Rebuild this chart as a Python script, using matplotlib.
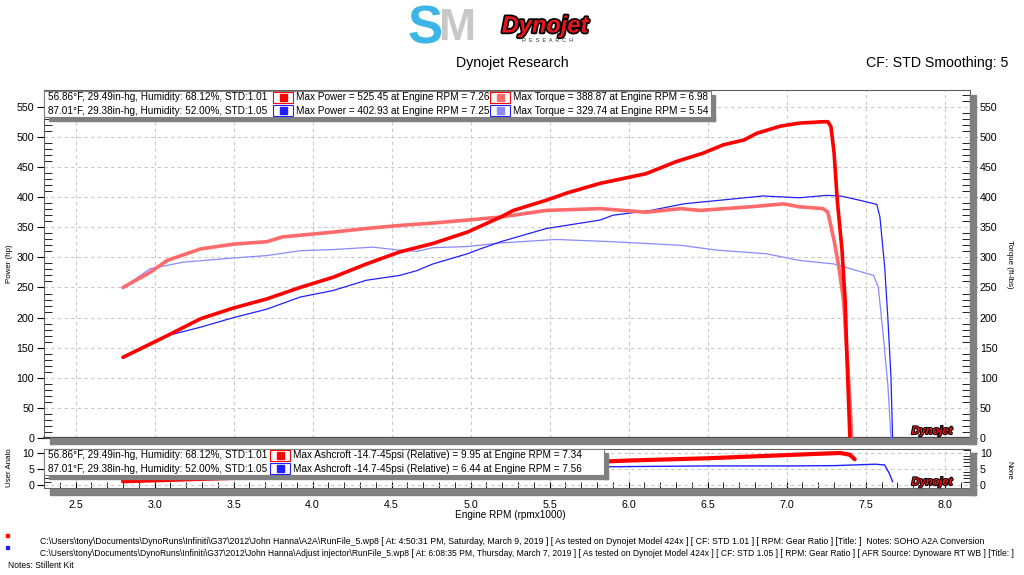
import numpy as np
import matplotlib
matplotlib.use("Agg")
import matplotlib.pyplot as plt
from matplotlib.patches import Rectangle
from matplotlib.ticker import MultipleLocator
import matplotlib.patheffects as pe
from matplotlib import font_manager

# ---- data (rpm x1000) ----
red_power_rpm = [2.80, 3.08, 3.29, 3.50, 3.71, 3.92, 4.13, 4.34, 4.55, 4.76, 4.98, 5.19, 5.27, 5.48,
                 5.61, 5.82, 6.11, 6.30, 6.47, 6.60, 6.73, 6.81, 6.96, 7.08, 7.21, 7.26, 7.28, 7.30,
                 7.32, 7.35, 7.37, 7.38, 7.39, 7.40]
red_power_hp = [134, 170, 198, 216, 231, 250, 267, 289, 309, 323, 342, 367, 378, 395,
                407, 423, 439, 459, 473, 487, 495, 506, 518, 523, 525, 525.45, 517, 473,
                395, 312, 228, 145, 73, 0]

red_torque_rpm = [2.80, 2.97, 3.08, 3.29, 3.50, 3.71, 3.81, 4.13, 4.34, 4.55, 4.76, 4.98, 5.19, 5.48,
                  5.82, 6.11, 6.33, 6.45, 6.77, 6.98, 7.08, 7.23, 7.26, 7.30, 7.33, 7.36, 7.38,
                  7.40, 7.41]
red_torque = [250, 275, 295, 314, 322, 326, 334, 342, 348, 353, 357, 362, 367, 378,
              381, 375, 381, 378, 384, 388.87, 384, 381, 375, 328, 284, 228, 145,
              62, 0]

blue_power_rpm = [2.80, 3.08, 3.29, 3.50, 3.71, 3.92, 4.13, 4.34, 4.55, 4.66, 4.76, 4.98, 5.06, 5.19,
                  5.48, 5.82, 5.90, 6.14, 6.35, 6.62, 6.85, 7.08, 7.25, 7.34, 7.46, 7.57, 7.59,
                  7.62, 7.64, 7.66, 7.67]
blue_power_hp = [134, 170, 184, 200, 214, 234, 245, 262, 270, 278, 289, 306, 314, 326,
                 348, 362, 370, 378, 389, 396, 402, 399, 402.93, 402, 395, 388, 367,
                 284, 200, 100, 0]

blue_torque_rpm = [2.80, 2.97, 3.18, 3.50, 3.71, 3.92, 4.13, 4.38, 4.55, 4.66, 4.76, 4.98, 5.19, 5.54,
                   5.90, 6.33, 6.56, 6.87, 7.08, 7.30, 7.55, 7.58, 7.61, 7.64, 7.66]
blue_torque = [250, 281, 292, 299, 303, 311, 313, 317, 312, 310, 316, 318, 324, 329.74,
               326, 320, 312, 306, 295, 289, 270, 250, 173, 89, 0]

red_ash_rpm = [2.80, 3.20, 3.60, 4.00, 4.50, 5.00, 5.50, 6.00, 6.50, 7.00, 7.20, 7.34, 7.40, 7.43]
red_ash = [1.1, 1.7, 2.3, 2.9, 3.6, 4.6, 6.6, 7.6, 8.3, 9.3, 9.7, 9.95, 9.4, 8.0]
blue_ash_rpm = [2.80, 3.50, 4.00, 4.50, 5.00, 5.50, 6.00, 6.50, 7.00, 7.30, 7.56, 7.62, 7.65, 7.67]
blue_ash = [1.4, 2.2, 2.8, 3.5, 4.6, 5.4, 5.7, 5.9, 5.9, 6.0, 6.44, 6.2, 3.5, 1.0]

run_conditions = ["56.86\u00b0F, 29.49in-hg, Humidity: 68.12%, STD:1.01",
                  "87.01\u00b0F, 29.38in-hg, Humidity: 52.00%, STD:1.05"]
power_notes = ["Max Power = 525.45 at Engine RPM = 7.26",
               "Max Power = 402.93 at Engine RPM = 7.25"]
torque_notes = ["Max Torque = 388.87 at Engine RPM = 6.98",
                "Max Torque = 329.74 at Engine RPM = 5.54"]
ash_notes = ["Max Ashcroft -14.7-45psi (Relative) = 9.95 at Engine RPM = 7.34",
             "Max Ashcroft -14.7-45psi (Relative) = 6.44 at Engine RPM = 7.56"]
footer = ["C:\\Users\\tony\\Documents\\DynoRuns\\Infiniti\\G37\\2012\\John Hanna\\A2A\\RunFile_5.wp8 [ At: 4:50:31 PM, Saturday, March 9, 2019 ] "
          "[ As tested on Dynojet Model 424x ] [ CF: STD 1.01 ] [ RPM: Gear Ratio ] [Title: ]  Notes: SOHO A2A Conversion",
          "C:\\Users\\tony\\Documents\\DynoRuns\\Infiniti\\G37\\2012\\John Hanna\\Adjust injector\\RunFile_5.wp8 [ At: 6:08:35 PM, Thursday, March 7, 2019 ] "
          "[ As tested on Dynojet Model 424x ] [ CF: STD 1.05 ] [ RPM: Gear Ratio ] [ AFR Source: Dynoware RT WB ] [Title: ]",
          "Notes: Stillent Kit"]

RED, LRED = "#ff0000", "#ff6a6a"
BLUE, LBLUE = "#2020ff", "#8a8aff"
SHADOW = "#808080"
GRID = "#c8c8c8"

names = {f.name for f in font_manager.fontManager.ttflist}
FONT = "Liberation Sans Narrow" if "Liberation Sans Narrow" in names else "Liberation Sans"
plt.rcParams["font.family"] = [FONT, "DejaVu Sans"]
fs = 8.5 if FONT == "Liberation Sans Narrow" else 7.2

W, H = 1024, 575
fig = plt.figure(figsize=(W / 100, H / 100), dpi=100)


def fx(x):
    return x / W


def fy(y):
    return 1 - y / H


def box(x0, y0, x1, y1, **kw):
    fig.patches.append(Rectangle((fx(x0), fy(y1)), fx(x1) - fx(x0), fy(y0) - fy(y1),
                                 transform=fig.transFigure, **kw))


def ftext(x, y, s, **kw):
    return fig.text(fx(x), fy(y), s, **kw)


def fit_width(t, width, size):
    # shrink/grow a text until it spans the wanted pixel width
    renderer = fig.canvas.get_renderer()
    for _ in range(6):
        t.set_fontsize(size)
        w = t.get_window_extent(renderer).width
        size = size * width / w
    t.set_fontsize(size)
    return size


# shadows behind the plot frames
box(50, 438, 976, 444, color=SHADOW, zorder=0)
box(970, 95, 976, 444, color=SHADOW, zorder=0)
box(50, 489, 976, 495, color=SHADOW, zorder=0)
box(970, 453, 976, 495, color=SHADOW, zorder=0)

xlim = (2.30, 8.16)
ax = fig.add_axes([fx(44), fy(438), fx(970) - fx(44), fy(90) - fy(438)])
ax2 = fig.add_axes([fx(44), fy(488), fx(970) - fx(44), fy(449) - fy(488)])

for a in (ax, ax2):
    a.set_xlim(*xlim)
    a.xaxis.set_major_locator(MultipleLocator(0.5))
    a.xaxis.set_minor_locator(MultipleLocator(0.1))
    a.grid(True, which="major", color=GRID, linestyle=(0, (3, 3)), linewidth=0.8)
    for s in a.spines.values():
        s.set_color("#606060")
        s.set_linewidth(0.8)

# main panel
ax.set_ylim(0, 578)
ax.yaxis.set_major_locator(MultipleLocator(50))
ax.yaxis.set_minor_locator(MultipleLocator(10))
ax.tick_params(axis="x", which="both", bottom=False, labelbottom=False)
ax.tick_params(axis="y", which="major", direction="out", length=5, labelsize=fs + 0.5, pad=2)
ax.tick_params(axis="y", which="minor", direction="in", length=6)
ax.tick_params(axis="y", which="both", right=True, labelright=True)
ax.spines["bottom"].set_linewidth(1.6)
ax.spines["bottom"].set_color("#404040")

ax.plot(blue_torque_rpm, blue_torque, color=LBLUE, lw=0.9, zorder=3)
ax.plot(blue_power_rpm, blue_power_hp, color=BLUE, lw=0.9, zorder=3)
ax.plot(red_torque_rpm, red_torque, color=LRED, lw=2.6, zorder=4, solid_capstyle="round")
ax.plot(red_power_rpm, red_power_hp, color=RED, lw=2.6, zorder=5, solid_capstyle="round")

# lower panel
ax2.set_ylim(-1, 11.2)
ax2.set_yticks([0, 5, 10])
ax2.yaxis.set_minor_locator(MultipleLocator(1))
ax2.tick_params(axis="y", which="major", direction="out", length=5, labelsize=fs + 0.5, pad=2)
ax2.tick_params(axis="y", which="minor", direction="in", length=5)
ax2.tick_params(axis="y", which="both", right=True, labelright=True)
ax2.tick_params(axis="x", which="major", direction="inout", length=8, labelsize=fs + 0.5, pad=5)
ax2.tick_params(axis="x", which="minor", direction="in", length=4)
ax2.set_xticks(np.arange(2.5, 8.01, 0.5))
ax2.set_xticklabels(["%.1f" % v for v in np.arange(2.5, 8.01, 0.5)])
ax2.plot(blue_ash_rpm, blue_ash, color=BLUE, lw=1.0, zorder=3)
ax2.plot(red_ash_rpm, red_ash, color=RED, lw=3.0, zorder=4, solid_capstyle="round")

# axis titles
ftext(10, 264, "Power (hp)", rotation=90, ha="center", va="center", fontsize=fs - 1.5)
ftext(1009, 264, "Torque (ft-lbs)", rotation=-90, ha="center", va="center", fontsize=fs - 1.5)
ftext(10, 468, "User Analo", rotation=90, ha="center", va="center", fontsize=fs - 1.5)
ftext(1009, 470, "None", rotation=-90, ha="center", va="center", fontsize=fs - 1.5)
ftext(510, 515, "Engine RPM (rpmx1000)", ha="center", va="center", fontsize=fs)

# header
ftext(512, 63, "Dynojet Research", ha="center", va="center", fontsize=fs + 3)
ftext(1008, 63, "CF: STD Smoothing: 5", ha="right", va="center", fontsize=fs + 3)
ftext(425, 29, "S", ha="center", va="center", fontsize=38, color="#3cb4e5", fontweight="bold")
ftext(458, 29, "M", ha="center", va="center", fontsize=32, color="#c8c8c8", fontweight="bold")
ftext(545, 26, "Dynojet", ha="center", va="center", fontsize=17, color="#e8141c", fontweight="bold",
      style="italic", path_effects=[pe.withStroke(linewidth=2.5, foreground="black")])
ftext(548, 41, "R  E  S  E  A  R  C  H", ha="center", va="center", fontsize=4, color="#333333")

# small logos inside the panels
for y in (431, 482):
    ftext(932, y, "Dynojet", ha="center", va="center", fontsize=8, color="#e8141c", fontweight="bold",
          style="italic", path_effects=[pe.withStroke(linewidth=1.5, foreground="black")])


# legend tables
def legend(x0, y0, rows, swatch_cols, right):
    rh = 13
    y1 = y0 + rh * 2
    box(x0 + 5, y1, right + 4, y1 + 4, color=SHADOW, zorder=1)
    box(right, y0 + 4, right + 4, y1 + 4, color=SHADOW, zorder=1)
    box(x0, y0, right, y1, facecolor="white", edgecolor="#808080", lw=0.8, zorder=2)
    for r in range(2):
        ty = y0 + rh * r + rh / 2
        ftext(x0 + 4, ty, rows[r][0], va="center", fontsize=fs, zorder=3)
        for (sx, label, colors) in swatch_cols:
            edge = RED if r == 0 else BLUE
            box(sx, y0 + rh * r + 1, sx + 20, y0 + rh * (r + 1) - 1, facecolor="white",
                edgecolor=edge, lw=0.8, zorder=3)
            box(sx + 7, ty - 3.5, sx + 14, ty + 3.5, color=colors[r], zorder=4)
            ftext(sx + 23, ty, label[r], va="center", fontsize=fs, zorder=3)


legend(44, 91, [[run_conditions[0]], [run_conditions[1]]],
       [(273, power_notes, [RED, BLUE]), (490, torque_notes, [LRED, LBLUE])], 711)
legend(44, 449, [[run_conditions[0]], [run_conditions[1]]],
       [(270, ash_notes, [RED, BLUE])], 604)

# footer
box(6, 534, 9, 537, color=RED)
box(6, 546, 9, 549, color=BLUE)
t1 = ftext(40, 541, footer[0], va="center", fontsize=7)
size = fit_width(t1, 935, 7)
t2 = ftext(40, 553, footer[1], va="center", fontsize=size)
size2 = fit_width(t2, 978, size)
ftext(8, 565, footer[2], va="center", fontsize=min(size, size2))

fig.savefig("out.png", dpi=100, facecolor="white")
